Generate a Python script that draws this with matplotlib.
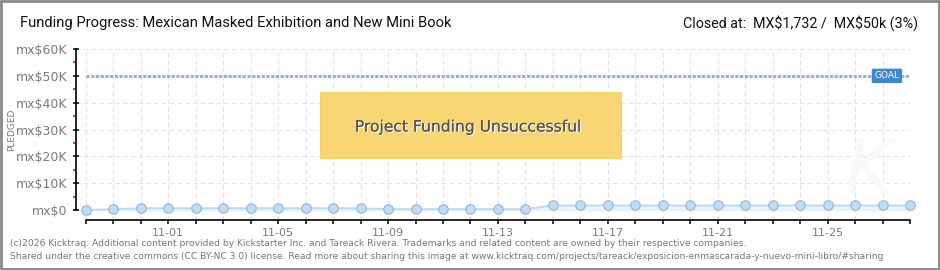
import numpy as np
import matplotlib.pyplot as plt
from matplotlib.patches import Rectangle
import matplotlib.patheffects as pe

# Daily pledged totals (MX$), 10-29 .. 11-28
days = np.arange(31)
pledged = [0, 350, 700, 700, 700, 700, 700, 700, 700, 700, 700,
           350, 350, 350, 350, 350, 350,
           1732, 1732, 1732, 1732, 1732, 1732, 1732, 1732, 1732, 1732,
           1732, 1732, 1732, 1732]
goal = 50000
tick_labels = {3: "11-01", 7: "11-05", 11: "11-09", 15: "11-13",
               19: "11-17", 23: "11-21", 27: "11-25"}
y_ticks = [0, 10000, 20000, 30000, 40000, 50000, 60000]
y_labels = ["mx$0", "mx$10K", "mx$20K", "mx$30K", "mx$40K", "mx$50K", "mx$60K"]

title = "Funding Progress: Mexican Masked Exhibition and New Mini Book"
closed = r"Closed at:  MX\$1,732 /  MX\$50k (3%)"
footer = ("(c)2026 Kicktraq. Additional content provided by Kickstarter Inc. and Tareack Rivera. "
          "Trademarks and related content are owned by their respective companies.\n"
          "Shared under the creative commons (CC BY-NC 3.0) license. Read more about sharing this "
          "image at www.kicktraq.com/projects/tareack/exposicion-enmascarada-y-nuevo-mini-libro/#sharing")

W, H = 940, 270
fig = plt.figure(figsize=(W / 100, H / 100), dpi=100)
ax = fig.add_axes([76 / W, 1 - 220 / H, 834 / W, 171 / H])

gray = "#7a7a7a"
ax.set_xlim(-0.36, 30)
ax.set_ylim(-3700, 60000)

# grid
for d in days:
    ax.axvline(d, color="#e2e2e2", lw=0.8, ls=(0, (4, 3)), zorder=0)
for v in y_ticks:
    ax.axhline(v, color="#e2e2e2", lw=0.8, ls=(0, (4, 3)), zorder=0)

# goal line
ax.plot([0, 30], [goal, goal], color="#8fb1e0", lw=2.2, ls=(0, (1, 0.55)),
        dash_capstyle="butt", zorder=2)

# pledged series
ax.fill_between(days, pledged, 0, color="#e6f0fb", alpha=0.8, zorder=2)
ax.plot(days, pledged, color="#bcd6f3", lw=1.3, marker="o", ms=6.8,
        mfc="#c4dbf6", mec="#93b3da", mew=0.8, zorder=3, clip_on=False)

# spines / ticks
for s in ["top", "right"]:
    ax.spines[s].set_visible(False)
ax.spines["left"].set_bounds(0, 60000)
ax.spines["bottom"].set_bounds(0, 30)
ax.spines["left"].set_linewidth(1.2)
ax.spines["bottom"].set_linewidth(1.2)

ax.set_yticks(y_ticks)
ax.set_yticklabels(y_labels, fontsize=9, color=gray)
ax.set_yticks(np.arange(5000, 60000, 10000), minor=True)
ax.tick_params(axis="y", which="major", direction="inout", length=4, width=1.1, pad=4)
ax.tick_params(axis="y", which="minor", direction="out", length=2.5, width=1.1, color="red")

ax.set_xticks(days)
ax.set_xticklabels([tick_labels.get(d, "") for d in days], fontsize=8, color=gray)
ax.tick_params(axis="x", direction="out", length=3, width=1.1, pad=3)

# goal tag
ax.text(29.16, goal, "GOAL", color="white", fontsize=6.5, ha="center", va="center", zorder=5,
        bbox=dict(boxstyle="round,pad=0.3,rounding_size=0.15", fc="#3f86d4", ec="none"))

# watermark
fig.text(870 / W, 1 - 172 / H, "K", fontsize=54, color="#f9f9f9", style="italic",
         ha="center", va="center", zorder=0)

# unsuccessful banner
fig.patches.append(Rectangle((320 / W, 1 - 158 / H), 301 / W, 66 / H, transform=fig.transFigure,
                             fc="#f8d673", ec="#f5d35f", lw=0.8, zorder=5))
fig.text(468 / W, 1 - 127 / H, "Project Funding Unsuccessful", fontsize=11.2, color="#555555",
         ha="center", va="center", zorder=6,
         path_effects=[pe.withSimplePatchShadow(offset=(0.8, -0.8), shadow_rgbFace="white", alpha=1.0),
                       pe.Normal()])

# texts
fig.text(20 / W, 1 - 23 / H, title, fontsize=10.6, color="#111111", va="center",
         family=["Roboto", "DejaVu Sans"])
fig.text(918 / W, 1 - 23 / H, closed, fontsize=10.3, color="#111111", va="center", ha="right",
         family=["Roboto", "DejaVu Sans"])
fig.text(12 / W, 1 - 130 / H, "PLEDGED", fontsize=6.5, color=gray, rotation=90,
         ha="center", va="center")
fig.text(10 / W, 1 - 250 / H, footer, fontsize=6.6, color="#777777", va="center",
         linespacing=1.45)

# border
fig.patches.append(Rectangle((0.001, 0.002), 0.998, 0.996, transform=fig.transFigure,
                             fill=False, ec="#888888", lw=2, zorder=10))

fig.savefig("out.png", dpi=100)
